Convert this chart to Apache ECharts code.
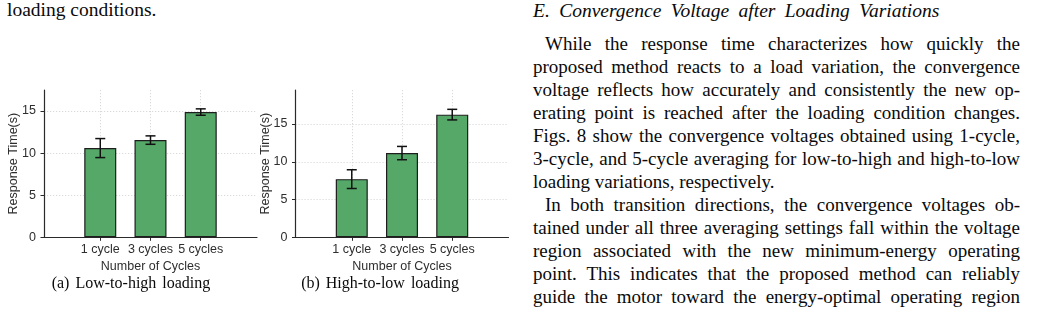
<!DOCTYPE html>
<html>
<head>
<meta charset="utf-8">
<script src="https://cdn.jsdelivr.net/npm/echarts@6/dist/echarts.min.js"></script>
<style>
html,body{margin:0;padding:0;background:#fff;}
#wrap{position:relative;width:1042px;height:315px;overflow:hidden;background:#fff;}
#chart{position:absolute;left:0;top:0;width:520px;height:315px;}
.serif{font-family:"Liberation Serif","Times New Roman",serif;color:#0a0a0a;position:absolute;white-space:nowrap;}
.body{font-size:19px;line-height:23px;}
.ln{position:absolute;left:533px;font-family:"Liberation Serif","Times New Roman",serif;font-size:19px;line-height:23px;height:23px;color:#0a0a0a;white-space:nowrap;}
.ln.ind{left:545px;}
.cap{font-size:16px;line-height:20px;text-align:center;width:240px;word-spacing:2px;}
</style>
</head>
<body>
<div id="wrap">
  <div class="serif body" style="left:7px;top:-2px;font-size:19.5px;">loading conditions.</div>
  <div id="chart"></div>
  <div class="serif cap" style="left:11px;top:273px;">(a) Low-to-high loading</div>
  <div class="serif cap" style="left:260px;top:273px;">(b) High-to-low loading</div>

  <div class="serif body" style="left:533px;top:-1px;font-style:italic;font-size:19.5px;word-spacing:4.5px;">E. Convergence Voltage after Loading Variations</div>
  <div class="ln ind just" style="top:32px;">While the response time characterizes how quickly the</div>
  <div class="ln just" style="top:55px;">proposed method reacts to a load variation, the convergence</div>
  <div class="ln just" style="top:78px;">voltage reflects how accurately and consistently the new op-</div>
  <div class="ln just" style="top:101px;">erating point is reached after the loading condition changes.</div>
  <div class="ln just" style="top:124px;">Figs. 8 show the convergence voltages obtained using 1-cycle,</div>
  <div class="ln just" style="top:147px;">3-cycle, and 5-cycle averaging for low-to-high and high-to-low</div>
  <div class="ln" style="top:170px;">loading variations, respectively.</div>
  <div class="ln ind just" style="top:193px;">In both transition directions, the convergence voltages ob-</div>
  <div class="ln just" style="top:216px;">tained under all three averaging settings fall within the voltage</div>
  <div class="ln just" style="top:239px;">region associated with the new minimum-energy operating</div>
  <div class="ln just" style="top:262px;">point. This indicates that the proposed method can reliably</div>
  <div class="ln just" style="top:285px;">guide the motor toward the energy-optimal operating region</div>
</div>
<script>
// justify each text line to the column's right edge (x = 1020)
document.querySelectorAll('.ln.just').forEach(function (el) {
  const left = parseFloat(getComputedStyle(el).left);
  const target = 1020 - left;
  const natural = el.getBoundingClientRect().width;
  const spaces = (el.textContent.match(/ /g) || []).length;
  if (spaces > 0) el.style.wordSpacing = ((target - natural) / spaces) + 'px';
});

// ---- data ----
const categories = ['1 cycle', '3 cycles', '5 cycles'];
const lowToHighMean = [10.6, 11.55, 14.88];
const lowToHighErr = [1.13, 0.5, 0.38];
const highToLowMean = [7.7, 11.15, 16.24];
const highToLowErr = [1.24, 0.88, 0.7];
const yTickValues = [0, 5, 10, 15];
const yMaxLowToHigh = 17.5;
const yMaxHighToLow = 19.5;
const xAxisName = 'Number of Cycles';
const yAxisName = 'Response Time(s)';

// ---- chart ----
const chart = echarts.init(document.getElementById('chart'), null, {renderer: 'canvas'});
const sans = '"Liberation Sans", Arial, Helvetica, sans-serif';
const axisColor = '#2a2a2a';
const labelColor = '#2e2e2e';
const gridLine = {show: true, lineStyle: {color: '#cfcfcf', width: 0.8, type: [1.2, 1.8]}};
const catIdx = categories.map((c, i) => i);

function xAxisFor(gridIndex) {
  return {
    type: 'value', gridIndex: gridIndex, min: -1.12, max: 3.12,
    axisLine: {show: true, onZero: false, lineStyle: {color: axisColor, width: 1.2}},
    axisTick: {show: true, customValues: catIdx, length: 3.5, inside: false, lineStyle: {color: axisColor, width: 1}},
    axisLabel: {show: true, customValues: catIdx, formatter: v => categories[Math.round(v)],
      fontFamily: sans, fontSize: 12.5, color: labelColor, margin: 6},
    splitLine: gridLine,
    name: xAxisName, nameLocation: 'middle', nameGap: 23, nameMoveOverlap: false,
    nameTextStyle: {fontFamily: sans, fontSize: 12.5, color: labelColor}
  };
}
function yAxisFor(gridIndex, maxV) {
  return {
    type: 'value', gridIndex: gridIndex, min: 0, max: maxV,
    axisLine: {show: true, onZero: false, lineStyle: {color: axisColor, width: 1.2}},
    axisTick: {show: true, customValues: yTickValues, length: 3.5, inside: false, lineStyle: {color: axisColor, width: 1}},
    axisLabel: {show: true, customValues: yTickValues, fontFamily: sans, fontSize: 12.5, color: labelColor, margin: 8},
    splitLine: gridLine,
    name: yAxisName, nameLocation: 'middle', nameGap: 23.5, nameRotate: 90, nameMoveOverlap: false,
    nameTextStyle: {fontFamily: sans, fontSize: 12.5, color: labelColor}
  };
}
function barSeries(idx, means) {
  return {
    type: 'bar', xAxisIndex: idx, yAxisIndex: idx, barWidth: 32, z: 2,
    data: means.map((m, i) => [i, m]),
    itemStyle: {color: '#55a868', borderColor: '#1e1e1e', borderWidth: 1.2},
    silent: true
  };
}
function errSeries(idx, means, errs) {
  return {
    type: 'custom', xAxisIndex: idx, yAxisIndex: idx, z: 5, silent: true,
    encode: {x: 0, y: 1},
    data: means.map((m, i) => [i, m, errs[i]]),
    renderItem: function (params, api) {
      const x = api.value(0), m = api.value(1), e = api.value(2);
      const t = api.coord([x, m + e]);
      const b = api.coord([x, m - e]);
      const hw = 5;
      const st = {stroke: '#111', lineWidth: 1.5};
      return {type: 'group', children: [
        {type: 'line', shape: {x1: t[0], y1: t[1], x2: b[0], y2: b[1]}, style: st},
        {type: 'line', shape: {x1: t[0] - hw, y1: t[1], x2: t[0] + hw, y2: t[1]}, style: st},
        {type: 'line', shape: {x1: b[0] - hw, y1: b[1], x2: b[0] + hw, y2: b[1]}, style: st}
      ]};
    }
  };
}

chart.setOption({
  animation: false,
  backgroundColor: 'transparent',
  textStyle: {fontFamily: sans},
  grid: [
    {left: 44, top: 90, width: 213, height: 147.3, containLabel: false, outerBoundsMode: 'none'},
    {left: 295.5, top: 90, width: 213, height: 147.3, containLabel: false, outerBoundsMode: 'none'}
  ],
  xAxis: [xAxisFor(0), xAxisFor(1)],
  yAxis: [yAxisFor(0, yMaxLowToHigh), yAxisFor(1, yMaxHighToLow)],
  series: [
    barSeries(0, lowToHighMean), errSeries(0, lowToHighMean, lowToHighErr),
    barSeries(1, highToLowMean), errSeries(1, highToLowMean, highToLowErr)
  ]
});
</script>
</body>
</html>
